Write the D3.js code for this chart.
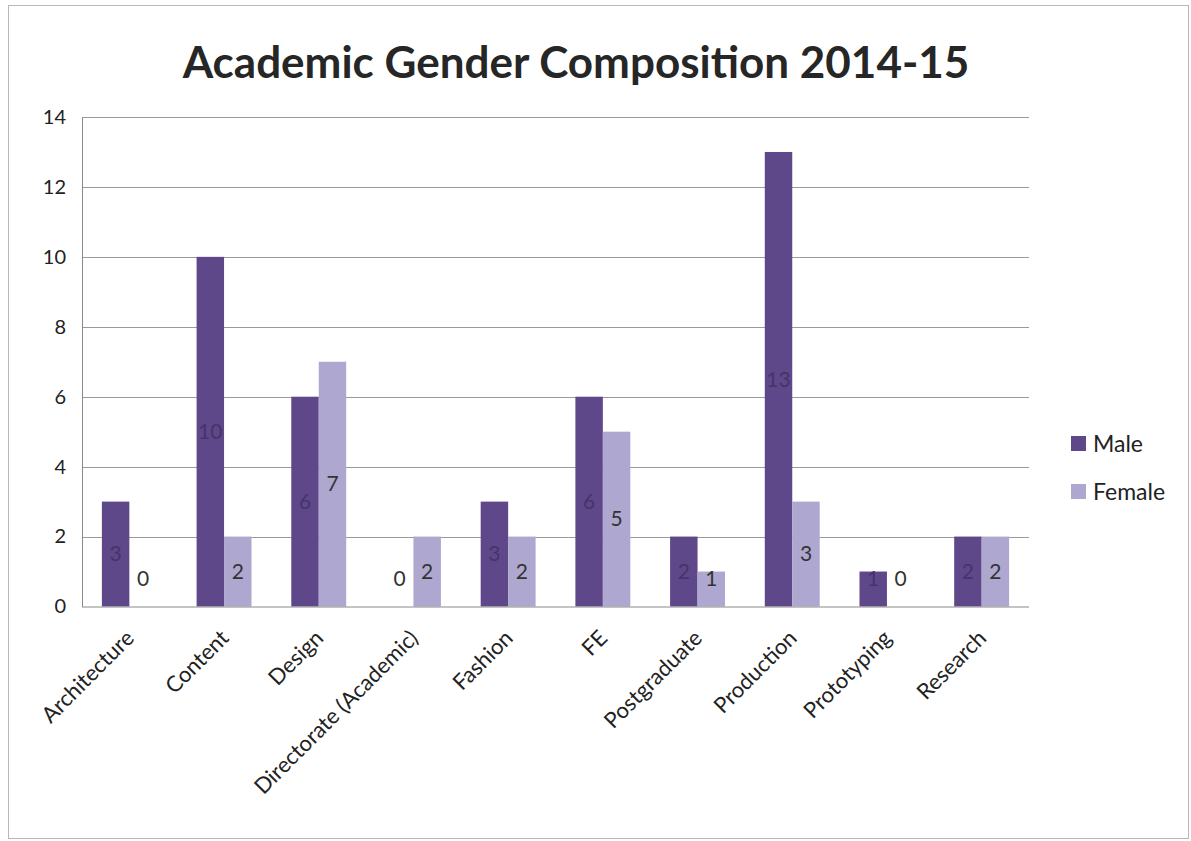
<!DOCTYPE html>
<html><head><meta charset="utf-8">
<script src="https://cdn.jsdelivr.net/npm/d3@7"></script>
<style>body{margin:0;background:#fff}svg{display:block}text{font-family:Lato,"Open Sans",sans-serif}</style>
</head><body><svg id="c" width="1191" height="841"></svg>
<script>
const categories = ["Architecture","Content","Design","Directorate (Academic)","Fashion","FE","Postgraduate","Production","Prototyping","Research"];
const seriesNames = ["Male","Female"];
const maleValues = [3,10,6,0,3,6,2,13,1,2];
const femaleValues = [0,2,7,2,2,5,1,3,0,2];
const yTicks = [0,2,4,6,8,10,12,14];
const title = "Academic Gender Composition 2014-15";

const colors = {Male:"#5f4889", Female:"#aea7d0"};
const labelColors = {Male:"#47336b", Female:"#333333"};
const data = categories.map((c,i)=>({cat:c, Male:maleValues[i], Female:femaleValues[i]}));

const svg = d3.select("#c");
svg.append("rect").attr("x",8.5).attr("y",5.5).attr("width",1180).attr("height",833)
  .attr("fill","#fff").attr("stroke","#b8b8b8").attr("stroke-width",1);

const L=82, R=1029, T=117, B=606.5;
const x0 = d3.scaleBand().domain(categories).range([L,R]).paddingInner(0.42).paddingOuter(0.21);
const x1 = d3.scaleBand().domain(seriesNames).range([0,x0.bandwidth()]);
const y = d3.scaleLinear().domain([0,14]).range([B,T]);

// gridlines
svg.append("g").selectAll("line").data(yTicks.filter(t=>t>0)).join("line")
  .attr("x1",L).attr("x2",R).attr("y1",d=>Math.round(y(d))+0.5).attr("y2",d=>Math.round(y(d))+0.5)
  .attr("stroke","#9a9a9a").attr("stroke-width",1);

// y axis
const yAxis = svg.append("g").attr("transform",`translate(${L},0)`)
  .call(d3.axisLeft(y).tickValues(yTicks).tickSize(0).tickPadding(16));
yAxis.select(".domain").attr("stroke","#8a8a8a");
yAxis.selectAll("text").attr("font-size",20).attr("fill","#222").attr("font-family","Lato, sans-serif");

// bars
const groups = svg.append("g").selectAll("g").data(data).join("g")
  .attr("transform",d=>`translate(${x0(d.cat)},0)`);
groups.selectAll("rect").data(d=>seriesNames.map(s=>({s, v:d[s]}))).join("rect")
  .attr("x",d=>x1(d.s)).attr("width",x1.bandwidth())
  .attr("y",d=>y(d.v)).attr("height",d=>y(0)-y(d.v))
  .attr("fill",d=>colors[d.s]);
groups.selectAll("text.lbl").data(d=>seriesNames.map(s=>({s, v:d[s]}))).join("text")
  .attr("class","lbl")
  .attr("x",d=>x1(d.s)+x1.bandwidth()/2)
  .attr("y",d=>Math.min(y(d.v/2), y(0)-28))
  .attr("dy","0.35em").attr("text-anchor","middle")
  .attr("font-size",21).attr("fill",d=>d.v>0 ? labelColors[d.s] : "#333333")
  .text(d=>d.v);

// x axis line
svg.append("line").attr("x1",L).attr("x2",R).attr("y1",B+0.5).attr("y2",B+0.5).attr("stroke","#8a8a8a");

// x labels
const xAxis = svg.append("g").attr("transform",`translate(0,${B})`)
  .call(d3.axisBottom(x0).tickSize(0).tickPadding(0));
xAxis.select(".domain").remove();
xAxis.selectAll("text").attr("font-size",22).attr("fill","#222").attr("font-family","Lato, sans-serif")
  .attr("text-anchor","end").attr("dy",0).attr("y",0)
  .attr("transform","translate(6,33) rotate(-45)");

// title
svg.append("text").attr("x",576).attr("y",78).attr("text-anchor","middle")
  .attr("font-size",44).attr("font-weight","bold").attr("fill","#262626").text(title);

// legend
const lg = svg.append("g").selectAll("g").data(seriesNames).join("g")
  .attr("transform",(d,i)=>`translate(1071,${443+i*48})`);
lg.append("rect").attr("x",0).attr("y",-7).attr("width",15).attr("height",15).attr("fill",d=>colors[d]);
lg.append("text").attr("x",22).attr("y",1).attr("dy","0.35em").attr("font-size",23).attr("fill","#222").text(d=>d);
</script></body></html>
